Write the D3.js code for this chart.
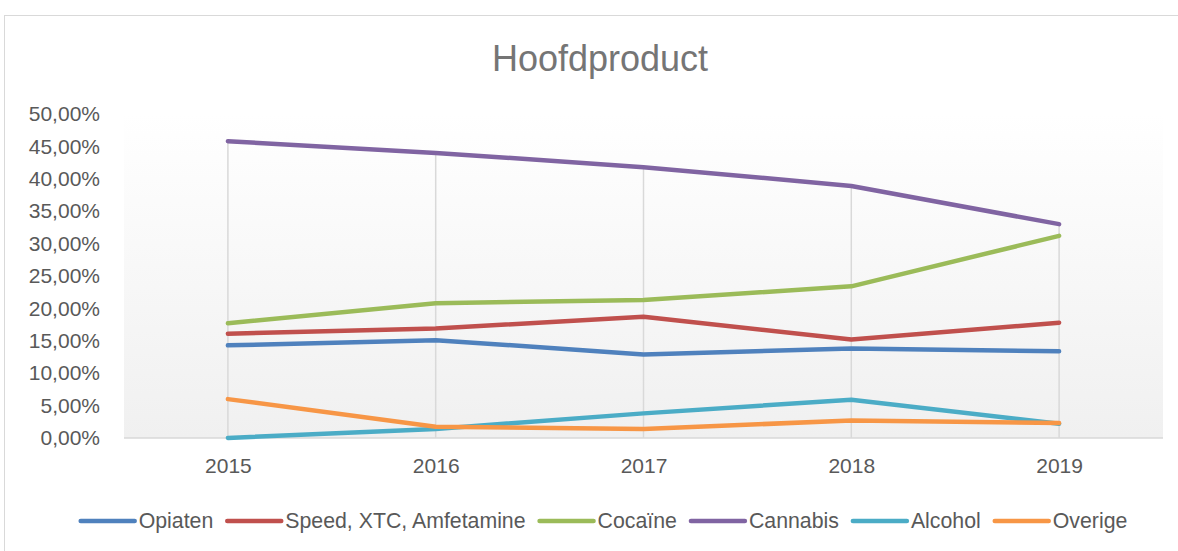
<!DOCTYPE html>
<html>
<head>
<meta charset="utf-8">
<script src="https://cdn.jsdelivr.net/npm/d3@7"></script>
<style>
  body { margin: 0; background: #fff; }
  svg { display: block; font-family: "Liberation Sans", Arial, sans-serif; }
</style>
</head>
<body>
<svg width="1178" height="551"></svg>
<script>
// data
var years = ["2015", "2016", "2017", "2018", "2019"];
var seriesNames = ["Opiaten", "Speed, XTC, Amfetamine", "Cocaïne", "Cannabis", "Alcohol", "Overige"];
var opiaten  = [14.3, 15.1, 12.9, 13.8, 13.4];
var speed    = [16.1, 16.9, 18.7, 15.2, 17.8];
var cocaine  = [17.7, 20.8, 21.3, 23.4, 31.2];
var cannabis = [45.8, 44.0, 41.8, 38.9, 33.0];
var alcohol  = [0.0, 1.4, 3.8, 5.9, 2.2];
var overige  = [6.0, 1.75, 1.4, 2.7, 2.3];
var yTicks = [0, 5, 10, 15, 20, 25, 30, 35, 40, 45, 50];
var colors = ["#4f81bd", "#c0504d", "#9bbb59", "#8064a2", "#4bacc6", "#f79646"];

var allSeries = [opiaten, speed, cocaine, cannabis, alcohol, overige];

var svg = d3.select("svg");
var plotLeft = 124, plotRight = 1163, plotTop = 114, plotBottom = 438;

var defs = svg.append("defs");
var grad = defs.append("linearGradient")
    .attr("id", "bg")
    .attr("x1", 0).attr("y1", 0).attr("x2", 0).attr("y2", 1);
grad.append("stop").attr("offset", "0%").attr("stop-color", "#ffffff");
grad.append("stop").attr("offset", "100%").attr("stop-color", "#f0f0f0");

// chart border
svg.append("rect")
    .attr("x", 4.5).attr("y", 15.5)
    .attr("width", 1200).attr("height", 600)
    .attr("fill", "#fff")
    .attr("stroke", "#d9d9d9");

svg.append("text")
    .attr("x", 600).attr("y", 71)
    .attr("text-anchor", "middle")
    .attr("font-size", 36)
    .attr("fill", "#757575")
    .text("Hoofdproduct");

var x = d3.scalePoint().domain(years).range([plotLeft, plotRight]).padding(0.5);
var y = d3.scaleLinear().domain([0, 50]).range([plotBottom, plotTop]);

svg.append("rect")
    .attr("x", plotLeft).attr("y", plotTop)
    .attr("width", plotRight - plotLeft).attr("height", plotBottom - plotTop)
    .attr("fill", "url(#bg)");

// drop lines from the highest point of each year
svg.append("g").selectAll("line")
  .data(years)
  .enter().append("line")
    .attr("x1", function(d) { return x(d); })
    .attr("x2", function(d) { return x(d); })
    .attr("y1", function(d, i) { return y(d3.max(allSeries, function(s) { return s[i]; })); })
    .attr("y2", y(0))
    .attr("stroke", "#d9d9d9")
    .attr("stroke-width", 1.5);

svg.append("line")
    .attr("x1", plotLeft).attr("x2", plotRight)
    .attr("y1", y(0)).attr("y2", y(0))
    .attr("stroke", "#d9d9d9")
    .attr("stroke-width", 1.5);

// y axis labels
var yAxis = d3.axisLeft(y).tickValues(yTicks).tickSize(0).tickPadding(0)
    .tickFormat(function(d) { return d3.format(".2f")(d).replace(".", ",") + "%"; });
var yg = svg.append("g").attr("transform", "translate(100,0)").call(yAxis);
yg.select(".domain").remove();
yg.selectAll("text").attr("font-size", 21).attr("fill", "#595959")
    .attr("font-family", "Liberation Sans, Arial, sans-serif");

// x axis labels
var xAxis = d3.axisBottom(x).tickSize(0).tickPadding(0);
var xg = svg.append("g").attr("transform", "translate(0,458)").call(xAxis);
xg.select(".domain").remove();
xg.selectAll("text").attr("font-size", 21).attr("fill", "#595959")
    .attr("font-family", "Liberation Sans, Arial, sans-serif");

var line = d3.line()
    .x(function(d, i) { return x(years[i]); })
    .y(function(d) { return y(d); });

svg.append("g").selectAll("path")
  .data(allSeries)
  .enter().append("path")
    .attr("d", line)
    .attr("fill", "none")
    .attr("stroke", function(d, i) { return colors[i]; })
    .attr("stroke-width", 4.5)
    .attr("stroke-linecap", "round")
    .attr("stroke-linejoin", "round");

// legend
var legend = svg.append("g");
var lx = 0;
seriesNames.forEach(function(name, i) {
  var item = legend.append("g").attr("transform", "translate(" + lx + ",0)");
  item.append("line")
      .attr("x1", 0).attr("x2", 54)
      .attr("y1", 0).attr("y2", 0)
      .attr("stroke", colors[i])
      .attr("stroke-width", 4.5)
      .attr("stroke-linecap", "round");
  var t = item.append("text")
      .attr("x", 58).attr("y", 0)
      .attr("dy", "0.35em")
      .attr("font-size", 21.3)
      .attr("fill", "#595959")
      .text(name);
  lx += 58 + t.node().getComputedTextLength() + 14;
});
var legendWidth = lx - 14;
legend.attr("transform", "translate(" + (604 - legendWidth / 2) + ",521)");
</script>
</body>
</html>
